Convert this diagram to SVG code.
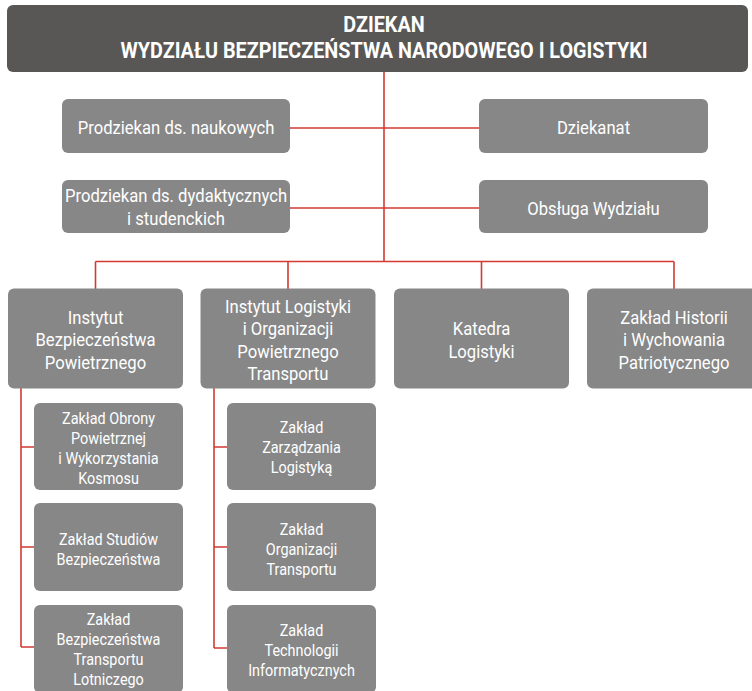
<svg xmlns="http://www.w3.org/2000/svg" width="752" height="691" viewBox="0 0 752 691">
<style>
.bx{fill:#878787;}
.top{fill:#585755;}
.t{font-family:Roboto,"Liberation Sans",sans-serif;fill:#ffffff;text-anchor:middle;}
.f1{font-size:18.5px;}
.f2{font-size:16px;}
.ft{font-size:22px;font-weight:bold;}
.ln{stroke:#d23a32;stroke-width:1.6;fill:none;}
</style>
<rect width="752" height="691" fill="#ffffff"/>
<g id="connectors">
<path class="ln" d="M384,72V262M290,128H480M290,208H480M95.5,261.5H674M95.5,261.5V289M288,261.5V289M481.5,261.5V289M674,261.5V289"/>
<path class="ln" d="M21,388V647M21,447H34M21,547H34M21,647H34"/>
<path class="ln" d="M214,388V648M214,447H227M214,547H227M214,648H227"/>
</g>
<g id="dziekan">
<rect class="top" x="7" y="5" width="741" height="67" rx="6"/>
<text class="t ft" transform="translate(384,0) scale(0.9,1)"><tspan x="0" y="32">DZIEKAN</tspan><tspan x="0" y="58">WYDZIAŁU BEZPIECZEŃSTWA NARODOWEGO I LOGISTYKI</tspan></text>
</g>
<g id="prodziekan-naukowy">
<rect class="bx" x="62" y="99" width="228" height="54" rx="6"/>
<text class="t f1" transform="translate(176,0) scale(0.9,1)"><tspan x="0" y="134">Prodziekan ds. naukowych</tspan></text>
</g>
<g id="dziekanat">
<rect class="bx" x="479" y="99" width="229" height="54" rx="6"/>
<text class="t f1" transform="translate(593.5,0) scale(0.9,1)"><tspan x="0" y="134">Dziekanat</tspan></text>
</g>
<g id="prodziekan-dydaktyczny">
<rect class="bx" x="62" y="180" width="228" height="53" rx="6"/>
<text class="t f1" transform="translate(176,0) scale(0.9,1)"><tspan x="0" y="202.5">Prodziekan ds. dydaktycznych</tspan><tspan x="0" y="225">i studenckich</tspan></text>
</g>
<g id="obsluga">
<rect class="bx" x="479" y="180" width="229" height="53" rx="6"/>
<text class="t f1" transform="translate(593.5,0) scale(0.9,1)"><tspan x="0" y="215.5">Obsługa Wydziału</tspan></text>
</g>
<g id="ibp">
<rect class="bx" x="8" y="288.5" width="175" height="100" rx="6"/>
<text class="t f1" transform="translate(95.5,0) scale(0.9,1)"><tspan x="0" y="324">Instytut</tspan><tspan x="0" y="346.5">Bezpieczeństwa</tspan><tspan x="0" y="369">Powietrznego</tspan></text>
</g>
<g id="ilopt">
<rect class="bx" x="200.5" y="288.5" width="175" height="100" rx="6"/>
<text class="t f1" transform="translate(288,0) scale(0.9,1)"><tspan x="0" y="313">Instytut Logistyki</tspan><tspan x="0" y="335.5">i Organizacji</tspan><tspan x="0" y="358">Powietrznego</tspan><tspan x="0" y="380.5">Transportu</tspan></text>
</g>
<g id="katedra">
<rect class="bx" x="394" y="288.5" width="175" height="100" rx="6"/>
<text class="t f1" transform="translate(481.5,0) scale(0.9,1)"><tspan x="0" y="335.5">Katedra</tspan><tspan x="0" y="358">Logistyki</tspan></text>
</g>
<g id="zhiwp">
<rect class="bx" x="587" y="288.5" width="175" height="100" rx="6"/>
<text class="t f1" transform="translate(674,0) scale(0.9,1)"><tspan x="0" y="324">Zakład Historii</tspan><tspan x="0" y="346.5">i Wychowania</tspan><tspan x="0" y="369">Patriotycznego</tspan></text>
</g>
<g id="zopwk">
<rect class="bx" x="34" y="403" width="149" height="87" rx="6"/>
<text class="t f2" transform="translate(108.5,0) scale(0.9,1)"><tspan x="0" y="424.5">Zakład Obrony</tspan><tspan x="0" y="444.5">Powietrznej</tspan><tspan x="0" y="464.5">i Wykorzystania</tspan><tspan x="0" y="484">Kosmosu</tspan></text>
</g>
<g id="zsb">
<rect class="bx" x="34" y="503" width="149" height="88" rx="6"/>
<text class="t f2" transform="translate(108.5,0) scale(0.9,1)"><tspan x="0" y="545">Zakład Studiów</tspan><tspan x="0" y="565">Bezpieczeństwa</tspan></text>
</g>
<g id="zbtl">
<rect class="bx" x="34" y="605" width="149" height="88" rx="6"/>
<text class="t f2" transform="translate(108.5,0) scale(0.9,1)"><tspan x="0" y="625.5">Zakład</tspan><tspan x="0" y="645.5">Bezpieczeństwa</tspan><tspan x="0" y="665.5">Transportu</tspan><tspan x="0" y="685.5">Lotniczego</tspan></text>
</g>
<g id="zzl">
<rect class="bx" x="227" y="403" width="149" height="87" rx="6"/>
<text class="t f2" transform="translate(301.5,0) scale(0.9,1)"><tspan x="0" y="433.5">Zakład</tspan><tspan x="0" y="453.5">Zarządzania</tspan><tspan x="0" y="473.5">Logistyką</tspan></text>
</g>
<g id="zot">
<rect class="bx" x="227" y="503" width="149" height="88" rx="6"/>
<text class="t f2" transform="translate(301.5,0) scale(0.9,1)"><tspan x="0" y="535.5">Zakład</tspan><tspan x="0" y="555.5">Organizacji</tspan><tspan x="0" y="575.5">Transportu</tspan></text>
</g>
<g id="zti">
<rect class="bx" x="227" y="605" width="149" height="88" rx="6"/>
<text class="t f2" transform="translate(301.5,0) scale(0.9,1)"><tspan x="0" y="636.5">Zakład</tspan><tspan x="0" y="656.5">Technologii</tspan><tspan x="0" y="676.5">Informatycznych</tspan></text>
</g>
</svg>
